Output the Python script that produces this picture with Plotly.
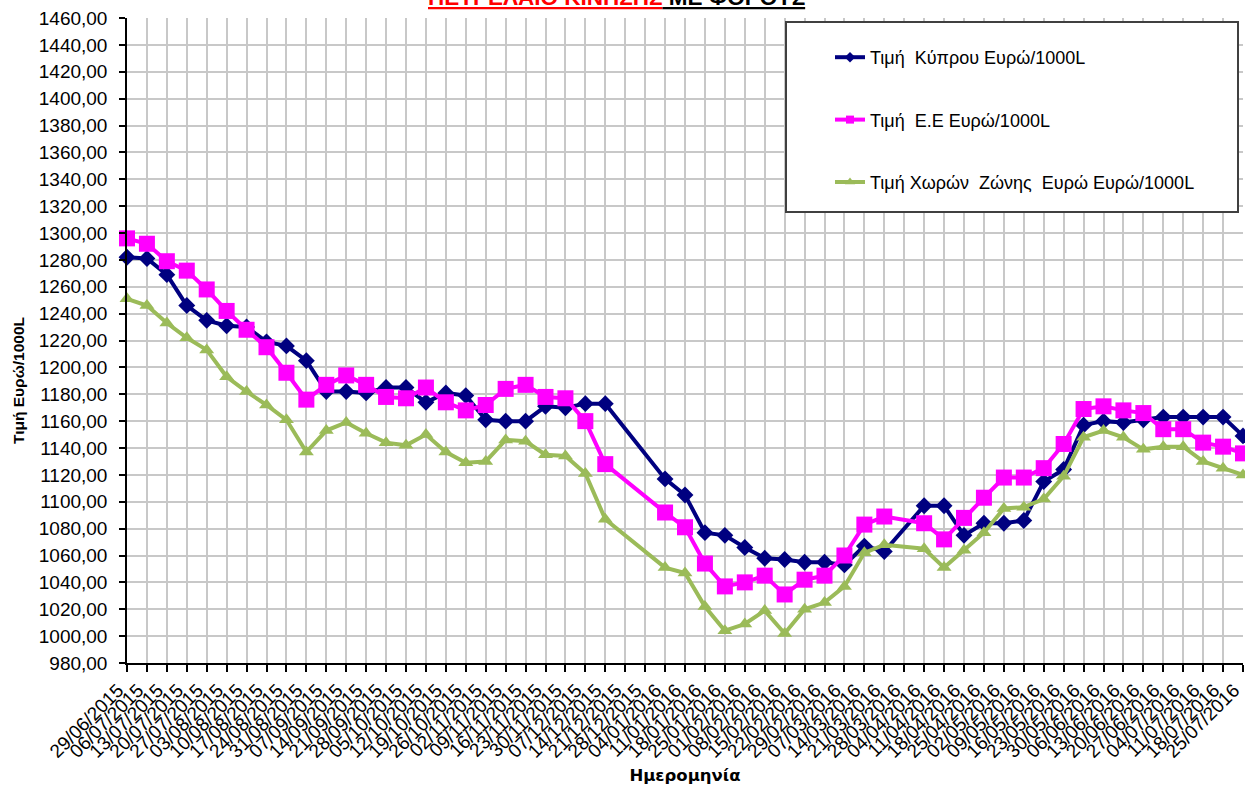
import plotly.graph_objects as go

dates = [
    "29/06/2015", "06/07/2015", "13/07/2015", "20/07/2015", "27/07/2015",
    "03/08/2015", "10/08/2015", "17/08/2015", "24/08/2015", "31/08/2015",
    "07/09/2015", "14/09/2015", "21/09/2015", "28/09/2015", "05/10/2015",
    "12/10/2015", "19/10/2015", "26/10/2015", "02/11/2015", "09/11/2015",
    "16/11/2015", "23/11/2015", "30/11/2015", "07/12/2015", "14/12/2015",
    "21/12/2015", "28/12/2015", "04/01/2016", "11/01/2016", "18/01/2016",
    "25/01/2016", "01/02/2016", "08/02/2016", "15/02/2016", "22/02/2016",
    "29/02/2016", "07/03/2016", "14/03/2016", "21/03/2016", "28/03/2016",
    "04/04/2016", "11/04/2016", "18/04/2016", "25/04/2016", "02/05/2016",
    "09/05/2016", "16/05/2016", "23/05/2016", "30/05/2016", "06/06/2016",
    "13/06/2016", "20/06/2016", "27/06/2016", "04/07/2016", "11/07/2016",
    "18/07/2016", "25/07/2016",
]

cyprus = [
    1282, 1281, 1269, 1246, 1235, 1231, 1230, 1219, 1216, 1205,
    1182, 1182, 1181, 1185, 1185, 1174, 1181, 1179, 1161, 1160,
    1160, 1171, 1170, 1173, 1173, None, None, 1117, 1105, 1077,
    1075, 1066, 1058, 1057, 1055, 1055, 1053, 1067, 1063, None,
    1097, 1097, 1075, 1084, 1084, 1086, 1115, 1124, 1157, 1160,
    1159, 1161, 1163, 1163, 1163, 1163, 1149,
]

eu = [
    1296, 1292, 1279, 1272, 1258, 1242, 1228, 1215, 1196, 1176,
    1187, 1194, 1187, 1178, 1177, 1185, 1174, 1168, 1172, 1184,
    1187, 1178, 1177, 1160, 1128, None, None, 1092, 1081, 1054,
    1037, 1040, 1045, 1031, 1042, 1045, 1060, 1083, 1089, None,
    1084, 1072, 1088, 1103, 1118, 1118, 1125, 1143, 1169, 1171,
    1168, 1166, 1154, 1154, 1144, 1141, 1136,
]

eurozone = [
    1251, 1246, 1233, 1222, 1213, 1193, 1182, 1172, 1161, 1137,
    1153, 1159, 1151, 1144, 1142, 1150, 1137, 1129, 1130, 1146,
    1145, 1135, 1134, 1121, 1087, None, None, 1051, 1047, 1022,
    1004, 1009, 1019, 1002, 1020, 1025, 1037, 1062, 1068, None,
    1065, 1051, 1064, 1077, 1095, 1096, 1102, 1119, 1148, 1153,
    1148, 1139, 1141, 1141, 1130, 1125, 1120,
]

series_names = [
    "Τιμή  Κύπρου Ευρώ/1000L",
    "Τιμή  Ε.Ε Ευρώ/1000L",
    "Τιμή Χωρών  Ζώνης  Ευρώ Ευρώ/1000L",
]
series_colors = ["#000080", "#FF00FF", "#9BBB59"]
series_symbols = ["diamond", "square", "triangle-up"]
marker_sizes = [13, 16, 13]
legend_marker_sizes = [8, 8, 9]

y_min, y_max, y_step = 980, 1460, 20

title_red = "ΠΕΤΡΕΛΑΙΟ ΚΙΝΗΣΗΣ"
title_black = " ΜΕ ΦΟΡΟΥΣ"
x_title = "Ημερομηνία"
y_title = "Τιμή Ευρώ/1000L"

W, H = 1245, 785
ML, MR, MT, MB = 127, 2, 18, 122
PW, PH = W - ML - MR, H - MT - MB


def px_x(px):
    return (px - ML) / PW


def px_y(py):
    return 1 - (py - MT) / PH


fig = go.Figure()

for vals, name, col, sym, ms in zip(
    [cyprus, eu, eurozone], series_names, series_colors, series_symbols, marker_sizes
):
    fig.add_trace(go.Scatter(
        x=dates, y=vals, mode="lines+markers", name=name,
        line=dict(color=col, width=4),
        marker=dict(symbol=sym, size=ms, color=col, line=dict(width=0)),
        connectgaps=True, cliponaxis=False, showlegend=False,
    ))

for i, (name, col, sym, ms) in enumerate(
    zip(series_names, series_colors, series_symbols, legend_marker_sizes)
):
    fig.add_trace(go.Scatter(
        x=[dates[0]], y=[None], mode="lines+markers", name=name,
        line=dict(color=col, width=4),
        marker=dict(symbol=sym, size=ms, color=col, line=dict(width=0)),
        legendgroup="g%d" % i, showlegend=True,
    ))

axis_font = dict(family="Liberation Sans, Arial", size=19, color="#000000")

fig.update_layout(
    width=W, height=H,
    margin=dict(l=ML, r=MR, t=MT, b=MB, pad=0, autoexpand=False),
    paper_bgcolor="white", plot_bgcolor="white",
    separators=",.",
    showlegend=True,
    legend=dict(
        x=px_x(830), y=px_y(39), xanchor="left", yanchor="top",
        bgcolor="rgba(0,0,0,0)", borderwidth=0,
        font=dict(family="Liberation Sans, Arial", size=18, color="#000000"),
        traceorder="grouped", tracegroupgap=36,
    ),
    xaxis=dict(
        type="category", range=[0, len(dates) - 1], automargin=False,
        tickmode="array", tickvals=dates, ticktext=dates,
        tickangle=-45, tickfont=axis_font, ticklabelshift=-9,
        ticks="outside", ticklen=7, tickwidth=1.5, tickcolor="#000000",
        showline=True, linecolor="#000000", linewidth=1.5,
        showgrid=True, gridcolor="#c8c8c8", gridwidth=1.5,
        zeroline=False,
        title=dict(text="<b>%s</b>" % x_title,
                   font=dict(family="DejaVu Sans", size=16.5, color="#000000"),
                   standoff=18),
    ),
    yaxis=dict(
        range=[y_min, y_max], tickmode="linear", tick0=y_min, dtick=y_step,
        automargin=False,
        tickformat=".2f", tickfont=axis_font,
        ticks="outside", ticklen=6, tickwidth=1.5, tickcolor="#000000",
        ticklabelstandoff=8,
        showline=True, linecolor="#000000", linewidth=1.5,
        showgrid=True, gridcolor="#c8c8c8", gridwidth=1.5,
        zeroline=False,
    ),
    shapes=[dict(
        type="rect", xref="paper", yref="paper",
        x0=px_x(786), x1=px_x(1238), y0=px_y(212), y1=px_y(22),
        fillcolor="white", line=dict(color="#404040", width=2), layer="above",
    )],
    annotations=[
        dict(
            xref="paper", yref="paper", x=px_x(616), y=1,
            xanchor="center", yanchor="bottom", yshift=6, showarrow=False,
            text=('<b><span style="color:#FF0000"><u>%s</u></span><u>%s</u></b>'
                  % (title_red, title_black)),
            font=dict(family="Liberation Sans, Arial", size=22.5, color="#000000"),
        ),
        dict(
            xref="paper", yref="paper", x=-(ML - 18) / PW, y=px_y(381),
            xanchor="center", yanchor="middle", showarrow=False, textangle=-90,
            text="<b>%s</b>" % y_title,
            font=dict(family="Liberation Sans, Arial", size=15.5, color="#000000"),
        ),
    ],
)

fig.write_html(
    "out.html",
    config={"displayModeBar": False},
    post_script="document.body.style.margin='0';document.body.style.overflow='hidden';",
)
